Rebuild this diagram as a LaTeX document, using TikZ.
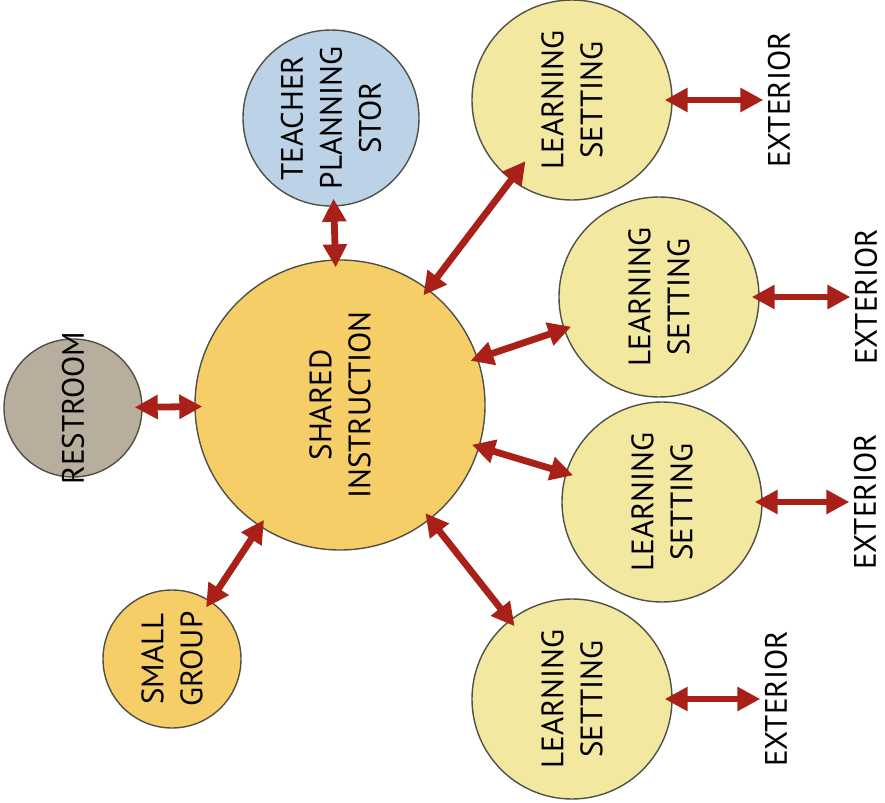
\documentclass[tikz,border=0pt]{standalone}
\usepackage{fontspec}
\setmainfont{PT Sans}
\usetikzlibrary{arrows.meta}
\definecolor{arrowred}{RGB}{168,32,24}
\definecolor{hubyellow}{RGB}{246,206,104}
\definecolor{lspale}{RGB}{242,232,160}
\definecolor{teachblue}{RGB}{188,210,230}
\definecolor{restgray}{RGB}{184,174,158}
\definecolor{rimgray}{RGB}{80,80,70}

\begin{document}
\begin{tikzpicture}[x=0.5pt,y=-0.5pt,
  room/.style={circle,draw=rimgray,line width=0.7pt,rotate=90,align=center,inner sep=0pt,
    font=\fontsize{15.5}{19.5}\selectfont},
  setting/.style={room,fill=lspale,minimum size=100pt},
  ext/.style={rotate=90,inner sep=2pt,font=\fontsize{15.5}{19.5}\selectfont},
  link/.style={arrowred,line width=3.4pt,
    {Triangle[length=11.5pt,width=11.5pt]}-{Triangle[length=11.5pt,width=11.5pt]},
    shorten <=-4pt,shorten >=-4pt}]
 \useasboundingbox (0,0) rectangle (885,803);

 % rooms
 \node[room,fill=hubyellow,minimum size=145pt] (si) at (340,405) {SHARED\\INSTRUCTION};
 \node[room,fill=teachblue,minimum size=88pt] (tp) at (331,118) {TEACHER\\PLANNING\\STOR};
 \node[room,fill=restgray,minimum size=69pt] (rr) at (73,408) {\makebox[0pt]{RESTROOM}};
 \node[room,fill=hubyellow,minimum size=69pt] (sg) at (172,659) {SMALL\\GROUP};

 \node[setting] (ls1) at (572,100) {LEARNING\\SETTING};
 \node[setting] (ls2) at (659,297) {LEARNING\\SETTING};
 \node[setting] (ls3) at (662,502) {LEARNING\\SETTING};
 \node[setting] (ls4) at (572,699) {LEARNING\\SETTING};

 \node[ext] (e1) at (779,100) {EXTERIOR};
 \node[ext] (e2) at (866,297) {EXTERIOR};
 \node[ext] (e3) at (865,502) {EXTERIOR};
 \node[ext] (e4) at (776,699) {EXTERIOR};

 % links
 \draw[link] (si) -- (tp);
 \draw[link] (si) -- (rr);
 \draw[link] (si) -- (sg);
 \draw[link,shorten >=-12pt] (si) -- (ls1);
 \draw[link] (si) -- (ls2);
 \draw[link] (si) -- (ls3);
 \draw[link] (si) -- (ls4);

 \draw[link,shorten >=0pt] (ls1) -- (e1);
 \draw[link,shorten >=0pt] (ls2) -- (e2);
 \draw[link,shorten >=0pt] (ls3) -- (e3);
 \draw[link,shorten >=0pt] (ls4) -- (e4);

\end{tikzpicture}
\end{document}
